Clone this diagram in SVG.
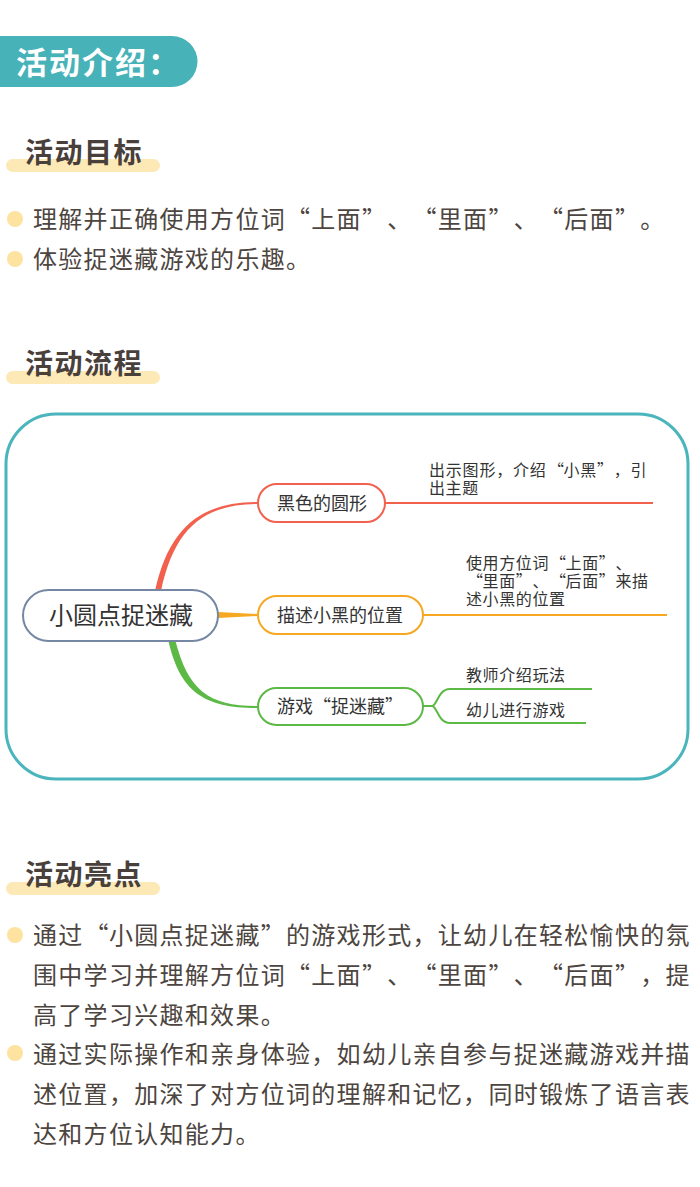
<svg xmlns="http://www.w3.org/2000/svg" width="700" height="1187" viewBox="0 0 700 1187">
<defs>
<style>
.cjk{font-family:"Noto Sans CJK SC","Noto Sans",sans-serif;}
.banner{fill:#47b2b8;}
.bannertxt{fill:#ffffff;font-size:31px;font-weight:bold;letter-spacing:2px;}
.hbar{fill:#fde9b6;}
.htxt{fill:#4a403b;font-size:28px;font-weight:bold;letter-spacing:1.5px;}
.dot{fill:#fde2a0;}
.body{fill:#4d4540;font-size:24px;letter-spacing:1.3px;}
.fixed{letter-spacing:0;}
.frame{fill:none;stroke:#4ab5bc;stroke-width:3;}
.node{fill:#ffffff;stroke-width:2;}
.ntxt{fill:#333333;font-size:18px;}
.stxt{fill:#333333;font-size:16px;letter-spacing:0.6px;}
.line{fill:none;stroke-width:2;}
</style>
</defs>
<rect width="700" height="1187" fill="#ffffff"/>

<g id="banner">
<path class="banner" d="M0 36 H172 A25.5 25.5 0 0 1 172 87 H0 Z"/>
<text class="cjk bannertxt" x="16" y="74">活动介绍：</text>
</g>

<g id="heading-goal">
<rect class="hbar" x="6" y="159" width="154" height="13" rx="6.5"/>
<text class="cjk htxt" x="25" y="163">活动目标</text>
</g>
<g id="goal-list">
<circle class="dot" cx="15" cy="219" r="8"/>
<text class="cjk body fixed" y="228" x="33 58.3 83.6 108.9 134.2 159.5 184.8 210.1 235.4 260.7 286 311.3 336.6 361.9 387.2 412.5 437.8 463.1 488.4 513.7 539 564.3 589.6 614.9 640.2">理解并正确使用方位词“上面”、“里面”、“后面”。</text>
<circle class="dot" cx="15" cy="259" r="8"/>
<text class="cjk body" x="33" y="268">体验捉迷藏游戏的乐趣。</text>
</g>

<g id="heading-flow">
<rect class="hbar" x="6" y="371" width="154" height="13" rx="6.5"/>
<text class="cjk htxt" x="25" y="374">活动流程</text>
</g>

<g id="mindmap-frame">
<rect class="frame" x="6" y="414" width="682" height="365" rx="50"/>
</g>

<g id="connectors">
<path fill="#f2604e" d="M155 591 C169 528 200 502 258 502 L258 504 C202 504 174 530 161 591 Z"/>
<path fill="#f7a823" d="M218 612 L258 614 L258 616 L218 618 Z"/>
<path fill="#5cb945" d="M168 639 C180 694 206 708 258 708 L258 706 C210 706 188 692 175 639 Z"/>
<path class="line" stroke="#f2604e" d="M385 503 H653"/>
<path class="line" stroke="#f7a823" d="M422 615 H667"/>
<path class="line" stroke="#5cb945" d="M422 706 H432 C437 706 438 689 450 689 H592"/>
<path class="line" stroke="#5cb945" d="M432 706 C437 706 438 723 450 723 H586"/>
</g>

<g id="root">
<rect class="node" x="23" y="590" width="195" height="51" rx="25.5" stroke="#7587a3"/>
<text class="cjk" x="121" y="624" text-anchor="middle" font-size="24" fill="#333333">小圆点捉迷藏</text>
</g>

<g id="node-black-circle">
<rect class="node" x="258" y="484" width="127" height="38" rx="19" stroke="#f2604e"/>
<text class="cjk ntxt" x="277" y="510">黑色的圆形</text>
</g>
<g id="leaf-black-circle">
<text class="cjk stxt fixed" y="476" x="429 445.8 462.6 479.4 496.2 513 529.8 548 563.4 580.2 597 613.8 630.6">出示图形，介绍“小黑”，引</text>
<text class="cjk stxt" x="429" y="494">出主题</text>
</g>

<g id="node-describe">
<rect class="node" x="258" y="596" width="165" height="38" rx="19" stroke="#f7a823"/>
<text class="cjk ntxt" x="277" y="622">描述小黑的位置</text>
</g>
<g id="leaf-describe">
<text class="cjk stxt fixed" y="569" x="466 482.6 499.2 515.8 532.4 550 565.6 582.2 598.8 615.4">使用方位词“上面”、</text>
<text class="cjk stxt fixed" y="587" x="467 482.6 499.2 515.8 532.4 550 565.6 582.2 598.8 615.4 632">“里面”、“后面”来描</text>
<text class="cjk stxt" x="466" y="605">述小黑的位置</text>
</g>

<g id="node-game">
<rect class="node" x="258" y="688" width="165" height="37" rx="18.5" stroke="#5cb945"/>
<text class="cjk ntxt fixed" y="713" x="277 295 313 331 349 367 385">游戏“捉迷藏”</text>
</g>
<g id="leaf-teacher">
<text class="cjk stxt" x="466" y="681">教师介绍玩法</text>
</g>
<g id="leaf-children">
<text class="cjk stxt" x="466" y="716">幼儿进行游戏</text>
</g>

<g id="heading-highlight">
<rect class="hbar" x="6" y="882" width="154" height="13" rx="6.5"/>
<text class="cjk htxt" x="25" y="885">活动亮点</text>
</g>
<g id="highlight-list">
<circle class="dot" cx="15" cy="935" r="8"/>
<text class="cjk body fixed" y="944" x="33 58.3 84.6 108.9 134.2 159.5 184.8 210.1 235.4 260.7 286 311.3 336.6 361.9 387.2 412.5 437.8 463.1 488.4 513.7 539 564.3 589.6 614.9 640.2 665.5">通过“小圆点捉迷藏”的游戏形式，让幼儿在轻松愉快的氛</text>
<text class="cjk body fixed" y="984" x="33 58.3 83.6 108.9 134.2 159.5 184.8 210.1 235.4 260.7 286 311.3 336.6 361.9 387.2 412.5 437.8 463.1 488.4 513.7 539 564.3 589.6 614.9 640.2 665.5">围中学习并理解方位词“上面”、“里面”、“后面”，提</text>
<text class="cjk body" x="33" y="1024">高了学习兴趣和效果。</text>
<circle class="dot" cx="15" cy="1053" r="8"/>
<text class="cjk body" x="33" y="1063">通过实际操作和亲身体验，如幼儿亲自参与捉迷藏游戏并描</text>
<text class="cjk body" x="33" y="1103">述位置，加深了对方位词的理解和记忆，同时锻炼了语言表</text>
<text class="cjk body" x="33" y="1143">达和方位认知能力。</text>
</g>
</svg>
